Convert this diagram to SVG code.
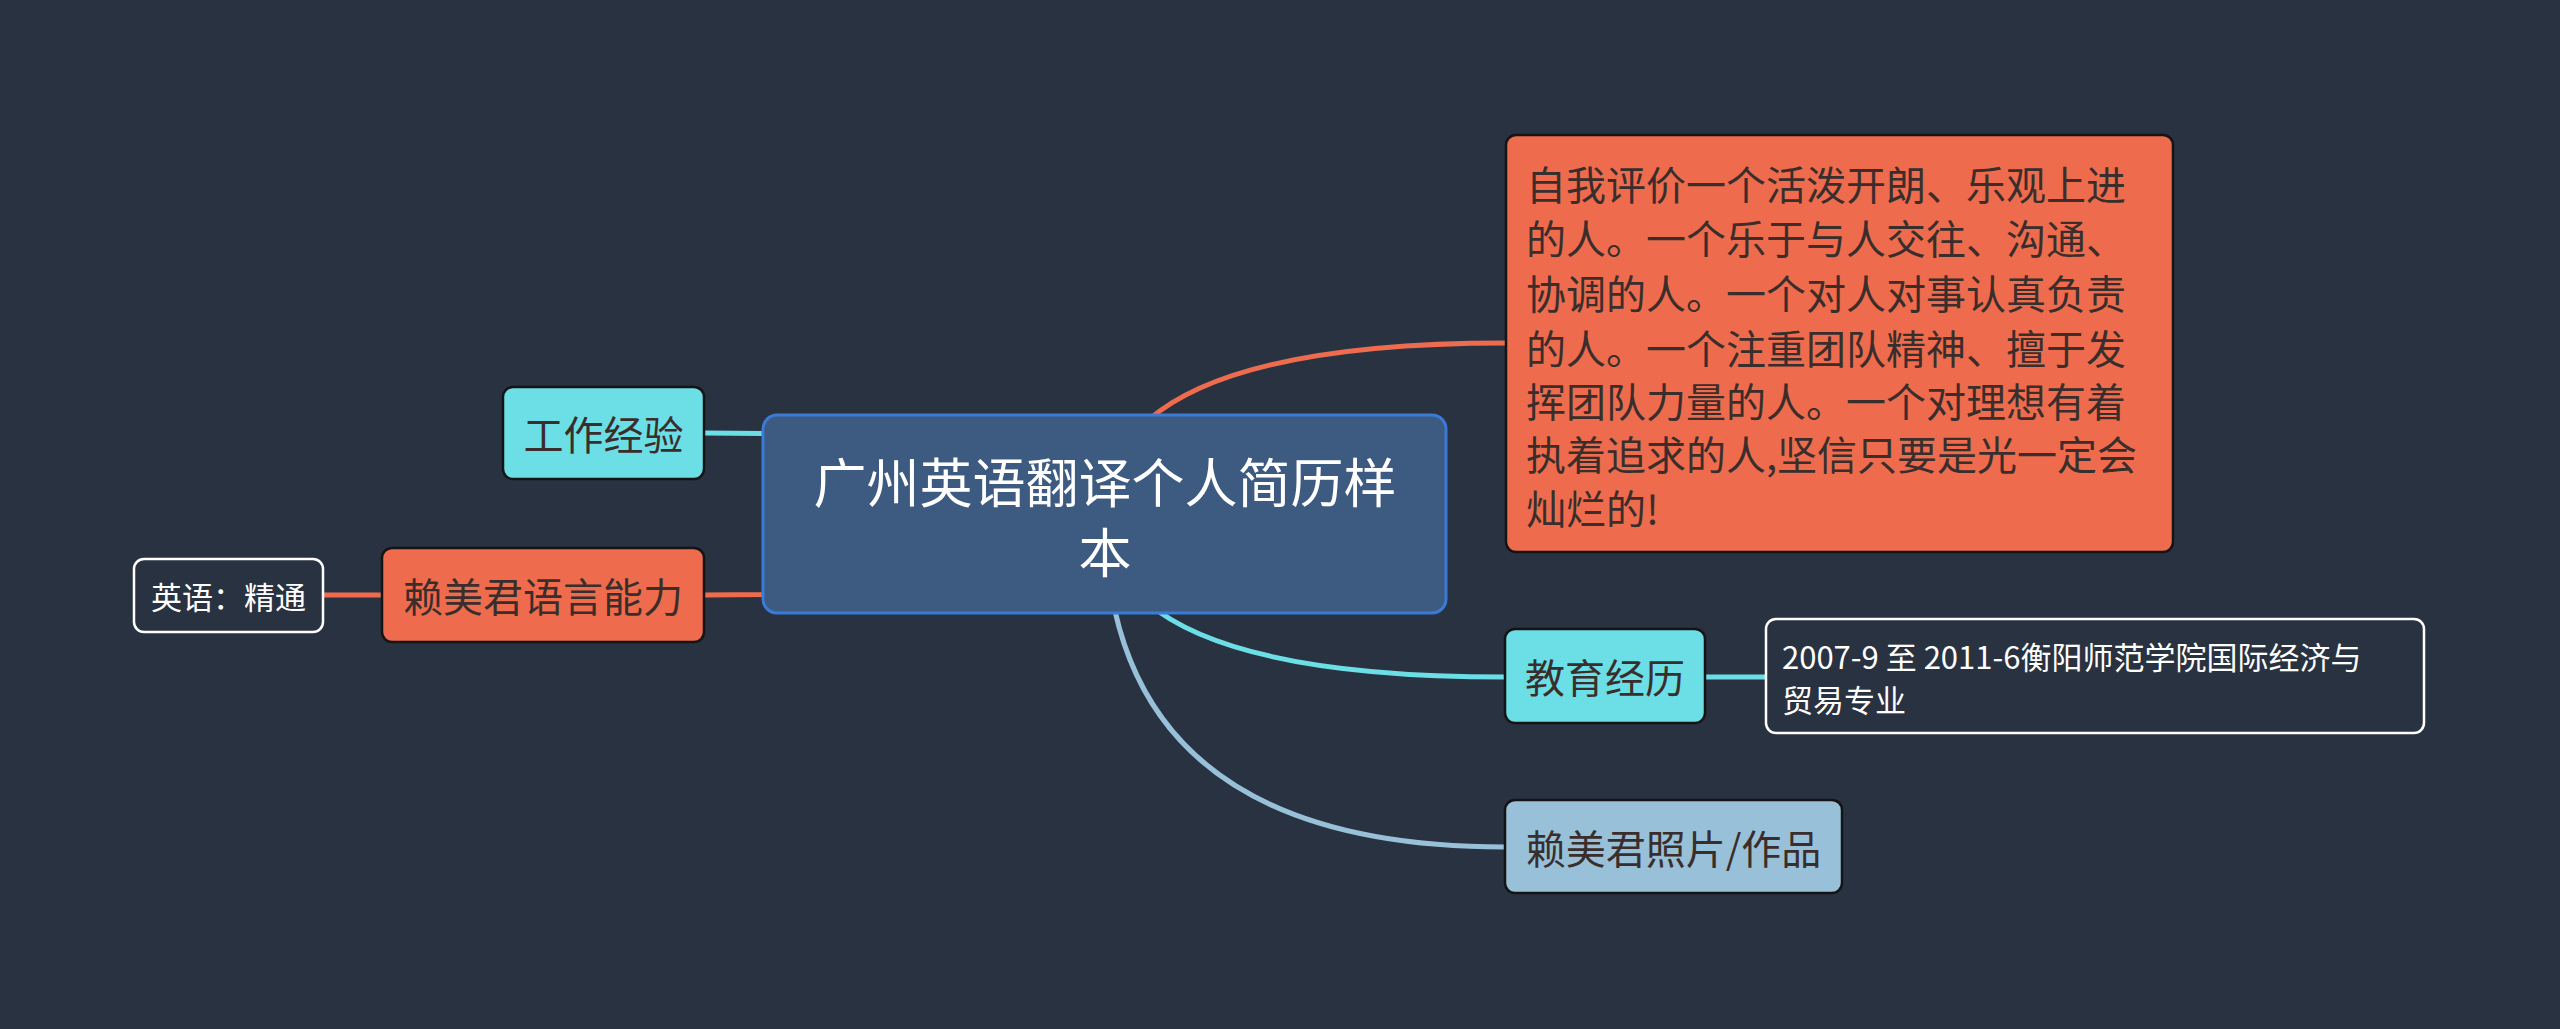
<svg xmlns="http://www.w3.org/2000/svg" width="2560" height="1029" viewBox="0 0 2560 1029">
<style>
text{font-family:"Noto Sans CJK SC","Noto Sans",sans-serif;}
.conn{fill:none;stroke-width:5;stroke-linecap:round;}
.coral{stroke:#ee6c4d;}
.cyan{stroke:#6cdfe6;}
.lblue{stroke:#98c1d9;}
.nb{stroke:#141414;stroke-width:2.5;}
.c{text-anchor:middle;dominant-baseline:central;}
.dark{fill:#3a2e2c;}
</style>
<rect width="2560" height="1029" fill="#293241"/>
<g id="connectors">
<path class="conn coral" d="M1105,514 Q1105,343 1506,343"/>
<path class="conn cyan" d="M1105,514 Q1105,677 1505,677"/>
<path class="conn lblue" d="M1105,514 Q1105,847 1505,847"/>
<path class="conn cyan" d="M1105,514 Q1105,433 704,433"/>
<path class="conn coral" d="M1105,514 Q1105,595 704,595"/>
<path class="conn coral" d="M382,595 L323,595"/>
<path class="conn cyan" d="M1705,677 L1766,677"/>
</g>
<g id="central">
<rect x="763" y="415" width="683" height="198" rx="14" fill="#3d5a80" stroke="#3b7bd8" stroke-width="3"/>
<text class="c" x="1105" y="480" font-size="53" fill="#ffffff">广州英语翻译个人简历样</text>
<text class="c" x="1105" y="550" font-size="53" fill="#ffffff">本</text>
</g>
<g id="self-eval">
<rect class="nb" x="1506" y="135" width="667" height="417" rx="10" fill="#ee6c4d"/>
<g class="dark" font-size="40" dominant-baseline="central">
<text x="1526" y="183" dominant-baseline="central">自我评价一个活泼开朗、乐观上进</text>
<text x="1526" y="237" dominant-baseline="central">的人。一个乐于与人交往、沟通、</text>
<text x="1526" y="292" dominant-baseline="central">协调的人。一个对人对事认真负责</text>
<text x="1526" y="347" dominant-baseline="central">的人。一个注重团队精神、擅于发</text>
<text x="1526" y="400" dominant-baseline="central">挥团队力量的人。一个对理想有着</text>
<text x="1526" y="453" dominant-baseline="central">执着追求的人,坚信只要是光一定会</text>
<text x="1526" y="507" dominant-baseline="central">灿烂的!</text>
</g>
</g>
<g id="work">
<rect class="nb" x="503" y="387" width="201" height="92" rx="10" fill="#6cdfe6"/>
<text class="c dark" x="603.5" y="433" font-size="40">工作经验</text>
</g>
<g id="language">
<rect class="nb" x="382" y="548" width="322" height="94" rx="10" fill="#ee6c4d"/>
<text class="c dark" x="543" y="595" font-size="40">赖美君语言能力</text>
</g>
<g id="english">
<rect x="134" y="559" width="189" height="73" rx="10" fill="#293241" stroke="#ffffff" stroke-width="2.5"/>
<text class="c" x="228.5" y="595.5" font-size="31" fill="#ffffff">英语：精通</text>
</g>
<g id="education">
<rect class="nb" x="1505" y="629" width="200" height="94" rx="10" fill="#6cdfe6"/>
<text class="c dark" x="1605" y="676" font-size="40">教育经历</text>
</g>
<g id="edu-detail">
<rect x="1766" y="619" width="658" height="114" rx="10" fill="#293241" stroke="#ffffff" stroke-width="2.5"/>
<text x="1782" y="655" font-size="31" fill="#ffffff" dominant-baseline="central">2007-9 至 2011-6衡阳师范学院国际经济与</text>
<text x="1782" y="698" font-size="31" fill="#ffffff" dominant-baseline="central">贸易专业</text>
</g>
<g id="photo">
<rect class="nb" x="1505" y="800" width="337" height="93" rx="10" fill="#98c1d9"/>
<text class="c dark" x="1673.5" y="847" font-size="40">赖美君照片/作品</text>
</g>
</svg>
